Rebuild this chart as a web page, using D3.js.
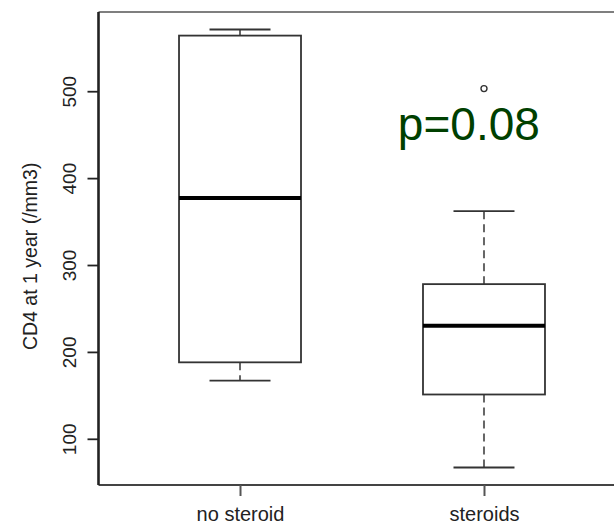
<!DOCTYPE html>
<html>
<head>
<meta charset="utf-8">
<script src="https://cdn.jsdelivr.net/npm/d3@7"></script>
<style>
  body { margin: 0; background: #fff; }
  svg { display: block; font-family: "Liberation Sans", Arial, sans-serif; }
</style>
</head>
<body>
<div id="viz"></div>
<script>
// data
var groups = ["no steroid", "steroids"];
var whiskerLow = [167, 67];
var q1 = [188, 151];
var medians = [377, 230];
var q3 = [564, 278];
var whiskerHigh = [571, 362];
var outliers = [[], [503]];
var yTicks = [100, 200, 300, 400, 500];
var yTitle = "CD4 at 1 year (/mm3)";
var pLabel = "p=0.08";

var width = 614;
var height = 525;

// plot region (right edge of the box runs off the picture)
var plotLeft = 98.5, plotRight = 625.5, plotTop = 12, plotBottom = 485;

// R style 4% padding around the data range
var allVals = whiskerLow.concat(whiskerHigh, d3.merge(outliers));
var yMin = d3.min(allVals), yMax = d3.max(allVals);
var pad = (yMax - yMin) * 0.04;

var x = d3.scaleLinear()
  .domain([0.5 - 0.08, groups.length + 0.5 + 0.08])
  .range([plotLeft, plotRight]);

var y = d3.scaleLinear()
  .domain([yMin - pad, yMax + pad])
  .range([plotBottom, plotTop]);

var boxes = groups.map(function(g, i) {
  return {
    name: g, pos: i + 1,
    lo: whiskerLow[i], q1: q1[i], med: medians[i], q3: q3[i], hi: whiskerHigh[i],
    out: outliers[i]
  };
});

var svg = d3.select("#viz")
  .append("svg")
  .attr("width", width)
  .attr("height", height);

// frame
svg.append("line")
  .attr("x1", plotLeft).attr("x2", width)
  .attr("y1", plotTop).attr("y2", plotTop)
  .attr("stroke", "#555").attr("stroke-width", 1.6);
svg.append("line")
  .attr("x1", plotLeft).attr("x2", width)
  .attr("y1", plotBottom).attr("y2", plotBottom)
  .attr("stroke", "#444").attr("stroke-width", 2);

// y axis
var yAxis = svg.append("g")
  .attr("transform", "translate(" + plotLeft + ",0)")
  .call(d3.axisLeft(y).tickValues(yTicks).tickSize(11).tickFormat(d3.format("d")));
yAxis.select(".domain").remove();
yAxis.selectAll(".tick line").attr("stroke", "#222").attr("stroke-width", 1.8);
yAxis.selectAll(".tick text")
  .attr("transform", "rotate(-90)")
  .attr("x", 0).attr("y", -23).attr("dy", 0)
  .attr("text-anchor", "middle")
  .attr("font-size", 19)
  .attr("font-family", "Liberation Sans, Arial, sans-serif")
  .attr("fill", "#222");
svg.append("line")
  .attr("x1", plotLeft).attr("x2", plotLeft)
  .attr("y1", plotTop).attr("y2", plotBottom)
  .attr("stroke", "#222").attr("stroke-width", 2.6);

// x axis
var xAxis = svg.append("g")
  .attr("transform", "translate(0," + plotBottom + ")")
  .call(d3.axisBottom(x)
    .tickValues(boxes.map(function(b) { return b.pos; }))
    .tickSize(11)
    .tickFormat(function(d) { return groups[d - 1]; }));
xAxis.select(".domain").remove();
xAxis.selectAll(".tick line").attr("stroke", "#555").attr("stroke-width", 2);
xAxis.selectAll(".tick text")
  .attr("y", 36).attr("dy", 0)
  .attr("font-size", 20)
  .attr("font-family", "Liberation Sans, Arial, sans-serif")
  .attr("fill", "#222");

// axis title
svg.append("text")
  .attr("transform", "translate(37," + y(310) + ") rotate(-90)")
  .attr("text-anchor", "middle")
  .attr("font-size", 19.5)
  .attr("fill", "#222")
  .text(yTitle);

// boxes
var halfBox = 0.25, halfCap = 0.125;
var bx = svg.append("g").selectAll("g")
  .data(boxes)
  .enter()
  .append("g");

// whiskers
bx.append("line")
  .attr("x1", function(d) { return x(d.pos); })
  .attr("x2", function(d) { return x(d.pos); })
  .attr("y1", function(d) { return y(d.q3); })
  .attr("y2", function(d) { return y(d.hi); })
  .attr("stroke", "#666").attr("stroke-width", 2).attr("stroke-dasharray", "8,5");
bx.append("line")
  .attr("x1", function(d) { return x(d.pos); })
  .attr("x2", function(d) { return x(d.pos); })
  .attr("y1", function(d) { return y(d.q1); })
  .attr("y2", function(d) { return y(d.lo); })
  .attr("stroke", "#666").attr("stroke-width", 2).attr("stroke-dasharray", "8,5");

// staples
["hi", "lo"].forEach(function(k) {
  bx.append("line")
    .attr("x1", function(d) { return x(d.pos - halfCap); })
    .attr("x2", function(d) { return x(d.pos + halfCap); })
    .attr("y1", function(d) { return y(d[k]); })
    .attr("y2", function(d) { return y(d[k]); })
    .attr("stroke", "#333").attr("stroke-width", 1.8);
});

bx.append("rect")
  .attr("x", function(d) { return x(d.pos - halfBox); })
  .attr("width", function(d) { return x(d.pos + halfBox) - x(d.pos - halfBox); })
  .attr("y", function(d) { return y(d.q3); })
  .attr("height", function(d) { return y(d.q1) - y(d.q3); })
  .attr("fill", "#fff")
  .attr("stroke", "#333").attr("stroke-width", 1.8);

bx.append("line")
  .attr("x1", function(d) { return x(d.pos - halfBox); })
  .attr("x2", function(d) { return x(d.pos + halfBox); })
  .attr("y1", function(d) { return y(d.med); })
  .attr("y2", function(d) { return y(d.med); })
  .attr("stroke", "#000").attr("stroke-width", 4);

bx.each(function(d) {
  d3.select(this).selectAll("circle")
    .data(d.out)
    .enter()
    .append("circle")
    .attr("cx", x(d.pos))
    .attr("cy", function(v) { return y(v); })
    .attr("r", 3)
    .attr("fill", "none")
    .attr("stroke", "#333").attr("stroke-width", 1.4);
});

// p value note
svg.append("text")
  .attr("x", x(1.647))
  .attr("y", y(443.6))
  .attr("font-size", 46)
  .attr("fill", "#004000")
  .text(pLabel);
</script>
</body>
</html>
